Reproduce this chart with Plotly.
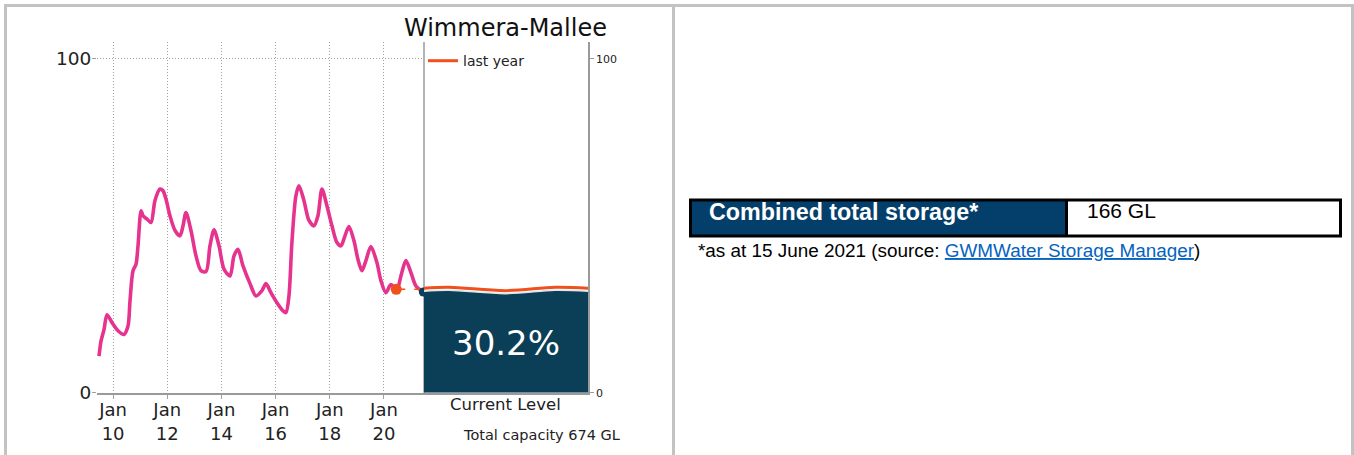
import plotly.graph_objects as go

W, H = 1354, 455
RENDER_H = 466  # the page is photographed slightly squeezed vertically


def px(x):
    return x / W


def py(y):
    return 1 - y / H


# ---- data ----
dates = [
    "2009-06-25", "2009-07-22", "2009-09-01", "2009-10-11", "2009-12-18",
    "2010-03-08", "2010-05-28", "2010-07-21", "2010-08-17", "2010-09-26",
    "2010-11-06", "2010-12-03", "2011-01-13", "2011-02-09", "2011-04-04",
    "2011-05-27", "2011-07-20", "2011-09-26", "2011-11-05", "2011-12-15",
    "2012-02-07", "2012-04-15", "2012-06-21", "2012-08-01", "2012-09-10",
    "2012-11-16", "2013-01-23", "2013-03-31", "2013-06-07", "2013-07-30",
    "2013-09-23", "2013-11-29", "2014-02-05", "2014-04-26", "2014-06-19",
    "2014-08-12", "2014-10-19", "2015-01-21", "2015-04-12", "2015-07-01",
    "2015-08-24", "2015-10-30", "2016-01-19", "2016-04-09", "2016-05-19",
    "2016-06-29", "2016-08-08", "2016-10-01", "2016-11-11", "2017-01-17",
    "2017-03-26", "2017-06-01", "2017-07-25", "2017-09-17", "2017-11-23",
    "2018-01-30", "2018-04-07", "2018-05-31", "2018-07-24", "2018-09-16",
    "2018-11-22", "2019-01-15", "2019-03-10", "2019-05-03", "2019-07-09",
    "2019-09-28", "2019-11-21", "2020-01-27", "2020-04-04", "2020-06-24",
    "2020-08-17", "2020-10-23", "2020-12-30", "2021-03-07", "2021-06-15",
]
storage_pct = [
    11.0, 15.5, 19.0, 23.4, 21.0,
    18.6, 17.5, 20.0, 27.5, 36.5,
    38.5, 44.0, 54.5, 53.0, 52.0,
    51.0, 57.6, 61.0, 60.5, 58.0,
    53.0, 48.6, 47.0, 50.0, 54.0,
    48.6, 41.0, 36.6, 36.3, 44.0,
    48.8, 44.0, 37.0, 35.0, 41.0,
    43.0, 38.0, 32.7, 29.0, 30.6,
    32.7, 30.0, 27.0, 24.6, 24.0,
    29.0, 45.0, 59.0, 62.0, 57.6,
    51.6, 50.0, 53.0, 61.0, 56.0,
    50.0, 45.0, 44.0, 47.0, 49.8,
    45.6, 40.0, 36.6, 39.6, 43.8,
    39.0, 33.6, 30.0, 32.4, 31.0,
    35.0, 39.6, 36.0, 32.0, 30.2,
]

tick_dates = ["2010-01-01", "2012-01-01", "2014-01-01",
              "2016-01-01", "2018-01-01", "2020-01-01"]
tick_labels = ["Jan<br>10", "Jan<br>12", "Jan<br>14",
               "Jan<br>16", "Jan<br>18", "Jan<br>20"]
y_ticks = [0, 100]

current_date = "2021-06-15"
current_pct = 30.2
last_year_date = "2020-06-15"
last_year_pct = 31.0

panel_x = [0.0, 0.15, 0.5, 0.8, 1.0]
panel_current = [30.4, 30.7, 29.7, 30.7, 30.4]
panel_last_year = [31.3, 31.6, 30.6, 31.6, 31.3]

title_text = "Wimmera-Mallee"
total_capacity_gl = 674
combined_storage_gl = 166
as_at_text = "15 June 2021"

# ---- styles ----
PINK = "#e5338e"
ORANGE = "#f0501e"
PANEL_NAVY = "#0b3e57"
TABLE_NAVY = "#043e6b"
GRID = "#a0a0a0"
AXIS = "#9a9a9a"
BORDER = "#c3c3c3"
CHART_FONT = "DejaVu Sans"
TABLE_FONT = "Liberation Sans"

fig = go.Figure()

fig.add_trace(go.Scatter(
    x=dates, y=storage_pct, mode="lines",
    line=dict(color=PINK, width=3.6, shape="spline", smoothing=0.8),
    showlegend=False, hoverinfo="skip",
))
fig.add_trace(go.Scatter(
    x=[last_year_date, "2021-06-24"], y=[last_year_pct, last_year_pct],
    mode="lines", line=dict(color=ORANGE, width=1.5, dash="dash"),
    showlegend=False, hoverinfo="skip",
))
fig.add_trace(go.Scatter(
    x=[last_year_date], y=[last_year_pct], mode="markers",
    marker=dict(color=ORANGE, size=11),
    showlegend=False, hoverinfo="skip",
))
fig.add_trace(go.Scatter(
    x=[current_date], y=[current_pct], mode="markers",
    marker=dict(color=PANEL_NAVY, size=9),
    showlegend=False, hoverinfo="skip",
))
fig.add_trace(go.Scatter(
    x=panel_x, y=panel_current, xaxis="x2", yaxis="y2", mode="lines",
    fill="tozeroy", fillcolor=PANEL_NAVY,
    line=dict(color="#dde6ea", width=1.5, shape="spline"),
    showlegend=False, hoverinfo="skip",
))
fig.add_trace(go.Scatter(
    x=panel_x, y=panel_last_year, xaxis="x2", yaxis="y2", mode="lines",
    line=dict(color=ORANGE, width=3, shape="spline"),
    name="last year", showlegend=True, hoverinfo="skip",
))

ydom = [py(392), py(42)]

fig.update_layout(
    width=W, height=RENDER_H,
    margin=dict(l=0, r=0, t=0, b=0),
    paper_bgcolor="white", plot_bgcolor="white",
    font=dict(family=CHART_FONT, color="#222222"),
    xaxis=dict(
        domain=[px(97), px(424)], type="date",
        range=["2009-05-29", "2021-06-24"],
        tickvals=tick_dates, ticktext=tick_labels,
        tickfont=dict(size=18, family=CHART_FONT, color="#222222"),
        ticklabelstandoff=-4,
        showgrid=True, gridcolor=GRID, griddash="1px,2px", gridwidth=1,
        showline=True, linecolor=AXIS, linewidth=1.5,
        ticks="outside", ticklen=4, tickcolor=GRID,
        zeroline=False, fixedrange=True,
    ),
    yaxis=dict(
        domain=ydom, range=[0, 105],
        tickvals=y_ticks,
        tickfont=dict(size=18.5, family=CHART_FONT, color="#222222"),
        ticklabelstandoff=-3,
        showgrid=True, gridcolor=GRID, griddash="1px,2px", gridwidth=1,
        showline=False, ticks="outside", ticklen=4, tickcolor=GRID,
        zeroline=False, fixedrange=True,
    ),
    xaxis2=dict(
        domain=[px(424), px(588)], range=[0, 1], anchor="y2",
        showticklabels=False, showgrid=False, zeroline=False,
        showline=True, linecolor=AXIS, linewidth=1.5, ticks="",
        fixedrange=True,
    ),
    yaxis2=dict(
        domain=ydom, range=[0, 105], anchor="x2", side="right",
        tickvals=y_ticks,
        tickfont=dict(size=11, family=CHART_FONT, color="#222222"),
        showgrid=False, zeroline=False,
        showline=True, linecolor=AXIS, linewidth=1.5,
        ticks="outside", ticklen=4, tickcolor=AXIS,
        fixedrange=True,
    ),
    legend=dict(
        x=px(423), y=py(45), xanchor="left", yanchor="top",
        bgcolor="rgba(0,0,0,0)", borderwidth=0,
        font=dict(size=14, family=CHART_FONT, color="#222222"),
        itemwidth=30, tracegroupgap=0,
    ),
)

annotations = [
    dict(text=title_text, xref="paper", yref="paper", x=px(505), y=py(28),
         xanchor="center", yanchor="middle", showarrow=False,
         font=dict(size=24, family=CHART_FONT, color="#111111")),
    dict(text=f"{current_pct:.1f}%", xref="x2", yref="y2", x=0.5, y=15,
         xanchor="center", yanchor="middle", showarrow=False,
         font=dict(size=34, family=CHART_FONT, color="white")),
    dict(text="Current Level", xref="paper", yref="paper", x=px(505), y=py(404),
         xanchor="center", yanchor="middle", showarrow=False,
         font=dict(size=16.5, family=CHART_FONT, color="#222222")),
    dict(text=f"Total capacity {total_capacity_gl} GL", xref="paper", yref="paper",
         x=px(541), y=py(434), xanchor="center", yanchor="middle", showarrow=False,
         font=dict(size=14.5, family=CHART_FONT, color="#222222")),
    dict(text="<b>Combined total storage*</b>", xref="paper", yref="paper",
         x=px(707), y=py(212), xanchor="left", yanchor="middle", showarrow=False,
         font=dict(size=23.3, family=TABLE_FONT, color="white")),
    dict(text=f"{combined_storage_gl} GL", xref="paper", yref="paper",
         x=px(1085), y=py(210), xanchor="left", yanchor="middle", showarrow=False,
         font=dict(size=21, family=TABLE_FONT, color="black")),
    dict(text=(f"*as at {as_at_text} (source: "
               "<span style='color:#0563c1;text-decoration:underline'>"
               "GWMWater Storage Manager</span>)"),
         xref="paper", yref="paper", x=px(696), y=py(250),
         xanchor="left", yanchor="middle", showarrow=False,
         font=dict(size=18.9, family=TABLE_FONT, color="black")),
]
fig.update_layout(annotations=annotations)

shapes = [
    # page cell borders
    dict(type="line", xref="paper", yref="paper", x0=px(4), x1=1, y0=py(5.5), y1=py(5.5),
         line=dict(color=BORDER, width=3)),
    dict(type="line", xref="paper", yref="paper", x0=px(5.5), x1=px(5.5), y0=py(4), y1=0,
         line=dict(color=BORDER, width=3)),
    dict(type="line", xref="paper", yref="paper", x0=px(673.5), x1=px(673.5), y0=py(4), y1=0,
         line=dict(color=BORDER, width=3)),
    dict(type="line", xref="paper", yref="paper", x0=px(1352.5), x1=px(1352.5), y0=py(4), y1=0,
         line=dict(color=BORDER, width=3)),
    # left boundary of current level panel
    dict(type="line", xref="paper", yref="paper", x0=px(424), x1=px(424), y0=ydom[0], y1=ydom[1],
         line=dict(color=AXIS, width=1.5), layer="below"),
    # table
    dict(type="rect", xref="paper", yref="paper", x0=px(691), x1=px(1066.5),
         y0=py(235.5), y1=py(199.5), fillcolor=TABLE_NAVY, line=dict(width=0)),
    dict(type="line", xref="paper", yref="paper", x0=px(1066.5), x1=px(1066.5),
         y0=py(236), y1=py(199), line=dict(color="black", width=3)),
    dict(type="rect", xref="paper", yref="paper", x0=px(690.5), x1=px(1340.5),
         y0=py(235.5), y1=py(199.5), fillcolor="rgba(0,0,0,0)",
         line=dict(color="black", width=3)),
]
fig.update_layout(shapes=shapes)

fig.write_html(
    "out.html",
    config={"displayModeBar": False},
    post_script="document.body.style.margin='0px';document.body.style.overflow='hidden';",
)
